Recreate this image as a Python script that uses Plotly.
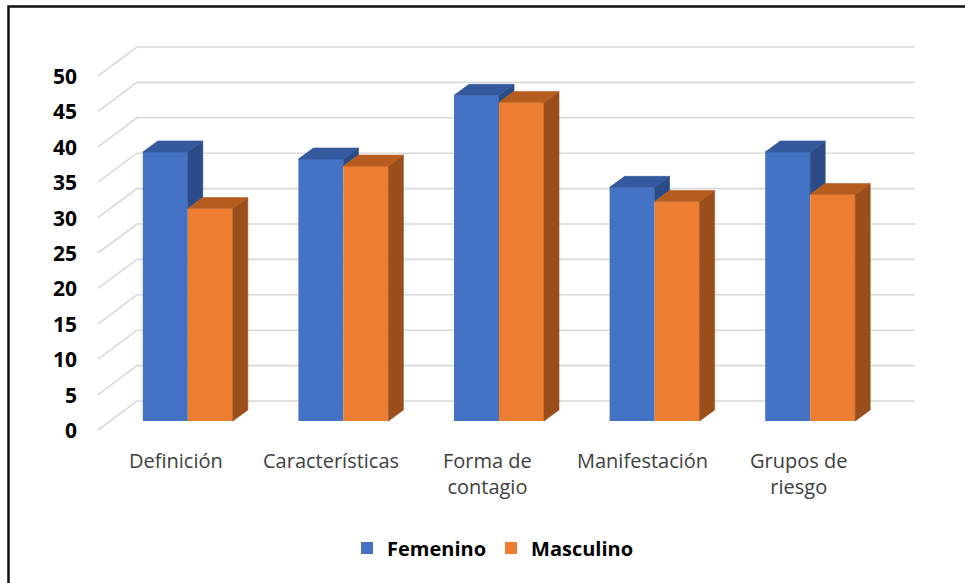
import plotly.graph_objects as go

# ---------------- data ----------------
categories = ["Definición", "Características", "Forma de<br>contagio", "Manifestación", "Grupos de<br>riesgo"]
femenino = [38, 37, 46, 33, 38]
masculino = [30, 36, 45, 31, 32]
y_ticks = [0, 5, 10, 15, 20, 25, 30, 35, 40, 45, 50]
series_names = ["Femenino", "Masculino"]

# ---------------- styling / geometry ----------------
FIG_W, FIG_H = 965, 583
PLOT_L, PLOT_R, PLOT_T, PLOT_B = 60, 940, 30, 450   # plot area in pixels
CAT_PX = 155.6         # pixels per category
UNIT_PX = 7.08         # pixels per value unit
X0_PX = 110            # pixel of x = -0.5 (bar front plane)
Y0_PX = 421            # pixel of y = 0 (bar front plane)

BAR_W = 45 / CAT_PX
DDX, DDY = 15 / CAT_PX, 11 / UNIT_PX        # bar depth
BDX, BDY = 27 / CAT_PX, 20 / UNIT_PX        # back wall offset
FDX, FDY = -12 / CAT_PX, -9 / UNIT_PX       # front plane offset

x_range = [-0.5 - (X0_PX - PLOT_L) / CAT_PX, -0.5 + (PLOT_R - X0_PX) / CAT_PX]
y_range = [(Y0_PX - PLOT_B) / UNIT_PX, (Y0_PX - PLOT_T) / UNIT_PX]

BLUE, BLUE_TOP, BLUE_SIDE = "#4472C4", "#34599E", "#2B4B86"
ORANGE, ORANGE_TOP, ORANGE_SIDE = "#ED7D31", "#B65C1F", "#994E1B"
GRID = "#D9D9D9"
FONT = "Open Sans"

n = len(categories)
xs = list(range(n))

fig = go.Figure()

# front faces (bars)
fig.add_trace(go.Bar(x=xs, y=femenino, width=BAR_W, offset=-BAR_W, name=series_names[0],
                     marker=dict(color=BLUE, line=dict(width=0)), hoverinfo="skip"))
fig.add_trace(go.Bar(x=xs, y=masculino, width=BAR_W, offset=0, name=series_names[1],
                     marker=dict(color=ORANGE, line=dict(width=0)), hoverinfo="skip"))


def poly_trace(polys, color):
    px, py = [], []
    for p in polys:
        for (a, b) in p:
            px.append(a)
            py.append(b)
        px.append(p[0][0]); py.append(p[0][1])
        px.append(None); py.append(None)
    return go.Scatter(x=px, y=py, mode="lines", fill="toself", fillcolor=color,
                      line=dict(width=0.6, color=color), showlegend=False, hoverinfo="skip")


f_top, f_side, m_top, m_side = [], [], [], []
for i, (vf, vm) in enumerate(zip(femenino, masculino)):
    xl, xr = i - BAR_W, i
    f_top.append([(xl, vf), (xr, vf), (xr + DDX, vf + DDY), (xl + DDX, vf + DDY)])
    low = min(vf, vm)
    f_side.append([(xr, low), (xr + DDX, low + DDY), (xr + DDX, vf + DDY), (xr, vf)])
    ml, mr = i, i + BAR_W
    m_top.append([(ml, vm), (mr, vm), (mr + DDX, vm + DDY), (ml + DDX, vm + DDY)])
    m_side.append([(mr, 0), (mr + DDX, DDY), (mr + DDX, vm + DDY), (mr, vm)])

fig.add_trace(poly_trace(f_side, BLUE_SIDE))
fig.add_trace(poly_trace(f_top, BLUE_TOP))
fig.add_trace(poly_trace(m_side, ORANGE_SIDE))
fig.add_trace(poly_trace(m_top, ORANGE_TOP))

# gridlines on side and back walls
shapes = []
x_left, x_right = -0.5, n - 0.5
for v in y_ticks:
    path = (f"M {x_left + FDX},{v + FDY} L {x_left + BDX},{v + BDY} "
            f"L {x_right + BDX},{v + BDY}")
    shapes.append(dict(type="path", path=path, xref="x", yref="y", layer="below",
                       line=dict(color=GRID, width=1.6)))

# outer frame
pw, ph = PLOT_R - PLOT_L, PLOT_B - PLOT_T
def px2paper_x(p): return (p - PLOT_L) / pw
def px2paper_y(p): return (PLOT_B - p) / ph
shapes.append(dict(type="rect", xref="paper", yref="paper", layer="above",
                   x0=px2paper_x(8.5), x1=px2paper_x(990), y0=px2paper_y(600), y1=px2paper_y(6.5),
                   line=dict(color="#111111", width=2.5), fillcolor="rgba(0,0,0,0)"))

annotations = []
for v in y_ticks:
    annotations.append(dict(x=x_left + FDX, y=v + FDY, xref="x", yref="y", text=str(v),
                            showarrow=False, xanchor="right", yanchor="middle", xshift=-19,
                            font=dict(family=FONT, size=21, color="#000000", weight="bold")))
for i, c in enumerate(categories):
    annotations.append(dict(x=i + FDX, y=FDY, xref="x", yref="y", text=c, showarrow=False,
                            xanchor="center", yanchor="top", yshift=-15,
                            font=dict(family=FONT, size=20, color="#404040")))

fig.update_layout(
    width=FIG_W, height=FIG_H, autosize=False,
    margin=dict(l=PLOT_L, r=FIG_W - PLOT_R, t=PLOT_T, b=FIG_H - PLOT_B, pad=0),
    paper_bgcolor="white", plot_bgcolor="white",
    barmode="overlay",
    xaxis=dict(range=x_range, visible=False, fixedrange=True),
    yaxis=dict(range=y_range, visible=False, fixedrange=True),
    shapes=shapes, annotations=annotations,
    legend=dict(orientation="h", x=px2paper_x(347), xanchor="left", y=px2paper_y(548), yanchor="middle",
                font=dict(family=FONT, size=20, color="#000000", weight="bold"),
                itemwidth=30, traceorder="normal", bgcolor="rgba(0,0,0,0)"),
    showlegend=True,
)

fig.write_html("out.html", config={"displayModeBar": False},
               post_script="document.body.style.margin='0px';")
